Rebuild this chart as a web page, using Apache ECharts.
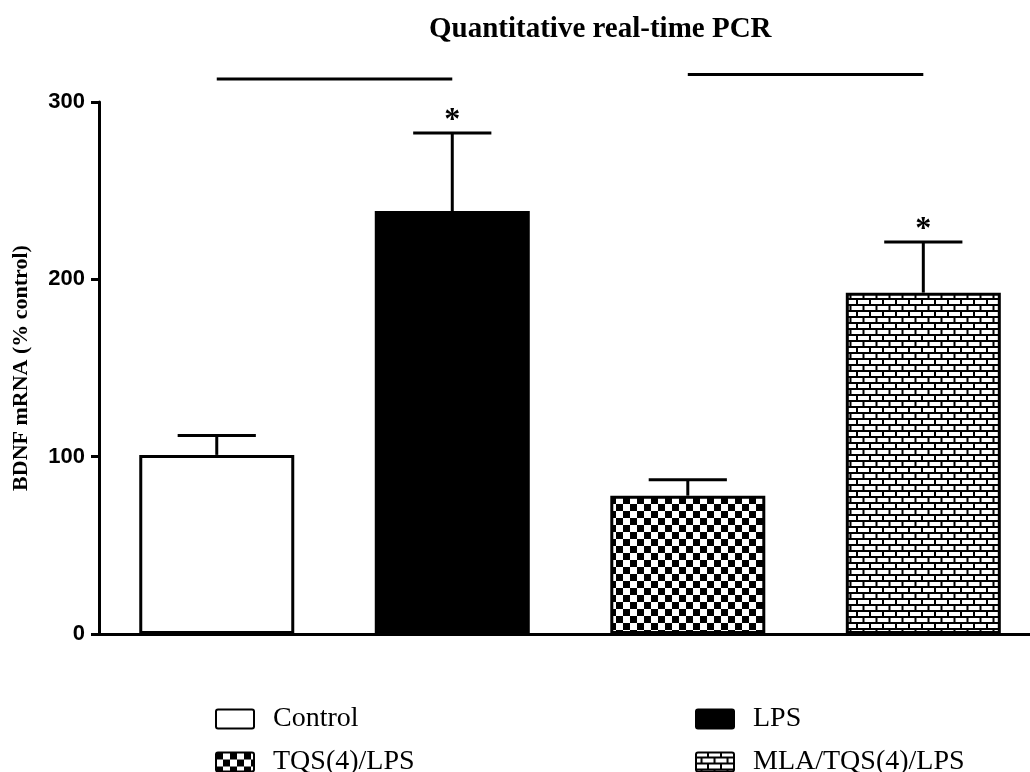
<!DOCTYPE html>
<html>
<head>
<meta charset="utf-8">
<script src="https://cdn.jsdelivr.net/npm/echarts@6/dist/echarts.min.js"></script>
<style>
  html, body { margin: 0; padding: 0; background: #fff; }
  #chart { width: 1030px; height: 772px; }
</style>
</head>
<body>
<div id="chart"></div>
<script>
// Groups and BDNF mRNA levels (% of control), mean and SEM
const categories = ['Control', 'LPS', 'TQS(4)/LPS', 'MLA/TQS(4)/LPS'];
const means = [101, 238.5, 78, 192.5];
const sems = [11, 44, 9, 28.5];
const significance = ['', '*', '', '*'];
// Pairwise comparison bars drawn above the plot: [groupA, groupB, level]
const comparisons = [[0, 1, 313], [2, 3, 315.5]];
const yTicks = [0, 100, 200, 300];

// Fill patterns for the bars
function checkerPattern(cell) {
  const c = document.createElement('canvas');
  c.width = cell * 2; c.height = cell * 2;
  const g = c.getContext('2d');
  g.fillStyle = '#fff'; g.fillRect(0, 0, c.width, c.height);
  g.fillStyle = '#000';
  g.fillRect(0, 0, cell, cell);
  g.fillRect(cell, cell, cell, cell);
  return c;
}
function brickPattern(w, h, m) {
  const c = document.createElement('canvas');
  c.width = w * 2; c.height = h * 2;
  const g = c.getContext('2d');
  g.fillStyle = '#000'; g.fillRect(0, 0, c.width, c.height);
  g.fillStyle = '#fff';
  // first course
  g.fillRect(0, 0, w - m, h - m);
  g.fillRect(w, 0, w - m, h - m);
  // second course, shifted by half a brick
  g.fillRect(w / 2, h, w - m, h - m);
  g.fillRect(w / 2 + w, h, w - m, h - m);
  g.fillRect(0, h, w / 2 - m, h - m);
  return c;
}

const fills = [
  '#ffffff',
  '#000000',
  { image: checkerPattern(7), repeat: 'repeat' },
  { image: brickPattern(13, 6, 2), repeat: 'repeat' }
];

const serif = "'Liberation Serif', 'Times New Roman', serif";
const sans = "'Liberation Sans', Arial, sans-serif";

// Groups sit at positions 0..n-1; the axis runs a little past the last group's right edge
const barSeries = categories.map((name, i) => ({
  type: 'bar',
  name: name,
  data: [[i, means[i]]],
  barWidth: 155,
  barGap: '-100%',
  itemStyle: { color: fills[i], borderColor: '#000', borderWidth: 3 },
  emphasis: { disabled: true },
  z: 2
}));

const errorSeries = {
  type: 'custom',
  name: 'sem',
  z: 3,
  data: means.map((m, i) => [i, m, sems[i]]),
  renderItem: function (params, api) {
    const i = api.value(0), m = api.value(1), s = api.value(2);
    const base = api.coord([i, m]);
    const top = api.coord([i, m + s]);
    const half = api.size([1, 0])[0] * 0.166;
    const style = { stroke: '#000', lineWidth: 3 };
    const children = [
      { type: 'line', shape: { x1: base[0], y1: base[1], x2: top[0], y2: top[1] }, style: style },
      { type: 'line', shape: { x1: top[0] - half, y1: top[1], x2: top[0] + half, y2: top[1] }, style: style }
    ];
    const mark = significance[params.dataIndex];
    if (mark) {
      children.push({
        type: 'text',
        x: top[0], y: top[1] - 28,
        style: { text: mark, fill: '#000', font: 'bold 32px ' + serif, align: 'center', verticalAlign: 'top' }
      });
    }
    return { type: 'group', children: children };
  }
};

const comparisonSeries = {
  type: 'custom',
  name: 'comparison',
  z: 3,
  data: comparisons,
  renderItem: function (params, api) {
    const a = api.coord([api.value(0), api.value(2)]);
    const b = api.coord([api.value(1), api.value(2)]);
    return { type: 'line', shape: { x1: a[0], y1: a[1], x2: b[0], y2: b[1] }, style: { stroke: '#000', lineWidth: 3 } };
  }
};

function legendFor(name, left, top) {
  return {
    data: [name],
    left: left, top: top,
    padding: 0,
    icon: 'path://M2,0 L36,0 Q38,0 38,2 L38,17 Q38,19 36,19 L2,19 Q0,19 0,17 L0,2 Q0,0 2,0 Z',
    itemWidth: 38, itemHeight: 19,
    selectedMode: false,
    textStyle: { fontFamily: serif, fontSize: 28, color: '#000', padding: [0, 0, 0, 14] }
  };
}

const chart = echarts.init(document.getElementById('chart'), null, { renderer: 'canvas' });
chart.setOption({
  animation: false,
  backgroundColor: '#fff',
  title: {
    text: 'Quantitative real-time PCR',
    left: 424, top: 10,
    textStyle: { fontFamily: serif, fontWeight: 'bold', fontSize: 29, color: '#000' }
  },
  legend: [
    legendFor(categories[0], 215, 705),
    legendFor(categories[1], 695, 705),
    legendFor(categories[2], 215, 748),
    legendFor(categories[3], 695, 748)
  ],
  grid: { left: 99, right: 0, top: 102, bottom: 138 },
  xAxis: {
    type: 'value',
    min: -0.5,
    max: categories.length - 0.547,
    axisLine: { show: true, onZero: false, lineStyle: { color: '#000', width: 3 } },
    axisTick: { show: false },
    axisLabel: { show: false },
    splitLine: { show: false }
  },
  yAxis: {
    type: 'value',
    min: yTicks[0], max: yTicks[yTicks.length - 1], interval: 100,
    name: 'BDNF mRNA (% control)',
    nameLocation: 'middle',
    nameRotate: 90,
    nameGap: 67,
    nameTextStyle: { fontFamily: serif, fontWeight: 'bold', fontSize: 22, color: '#000' },
    axisLine: { show: true, onZero: false, lineStyle: { color: '#000', width: 3 } },
    axisTick: { show: true, length: 8, lineStyle: { color: '#000', width: 3 } },
    axisLabel: { margin: 14, fontFamily: sans, fontWeight: 'bold', fontSize: 22, color: '#000' },
    splitLine: { show: false }
  },
  series: barSeries.concat([errorSeries, comparisonSeries])
});
</script>
</body>
</html>
